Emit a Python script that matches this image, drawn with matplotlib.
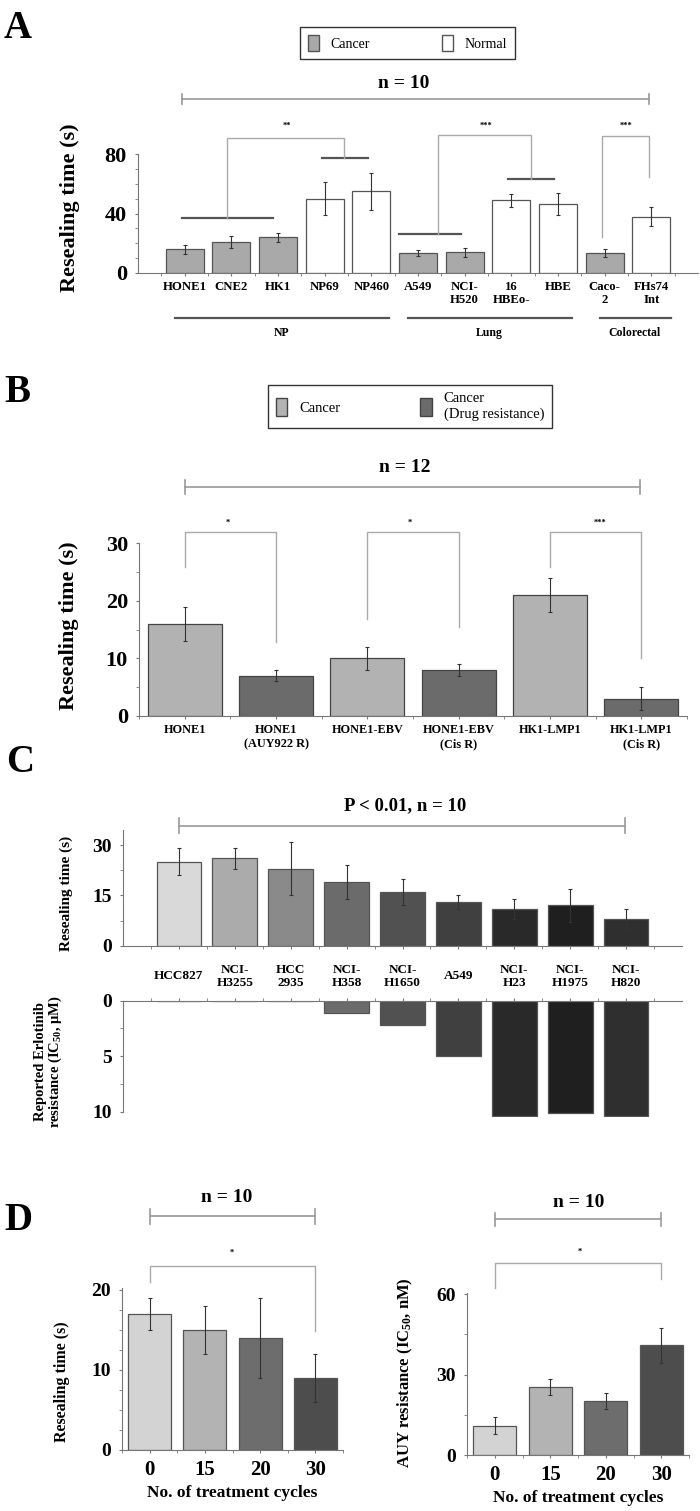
import numpy as np
import matplotlib
matplotlib.use('Agg')
import matplotlib.pyplot as plt
from matplotlib.patches import Patch

plt.rcParams['font.family'] = ['Liberation Serif', 'DejaVu Serif']
plt.rcParams['font.weight'] = 'bold'
plt.rcParams['axes.labelweight'] = 'bold'
plt.rcParams['mathtext.fontset'] = 'custom'
plt.rcParams['mathtext.rm'] = 'Liberation Serif:bold'
plt.rcParams['mathtext.it'] = 'Liberation Serif:bold'

# ---- data
a_cells = ['HONE1', 'CNE2', 'HK1', 'NP69', 'NP460', 'A549', 'NCI-\nH520',
           '16\nHBEo-', 'HBE', 'Caco-\n2', 'FHs74\nInt']
a_time = [16, 21, 24, 50, 55, 13.5, 14, 49, 46.5, 13.5, 38]
a_err = [3, 4, 3, 11, 12.5, 2, 3, 4.5, 7.5, 3, 6.5]
a_kind = ['Cancer', 'Cancer', 'Cancer', 'Normal', 'Normal', 'Cancer', 'Cancer',
          'Normal', 'Normal', 'Cancer', 'Normal']
a_tissues = ['NP', 'Lung', 'Colorectal']

b_cells = ['HONE1', 'HONE1\n(AUY922 R)', 'HONE1-EBV', 'HONE1-EBV\n(Cis R)',
           'HK1-LMP1', 'HK1-LMP1\n(Cis R)']
b_time = [16, 7, 10, 8, 21, 3]
b_err = [3, 1, 2, 1, 3, 2]
b_kind = ['Cancer', 'Resistant'] * 3

c_cells = ['HCC827', 'NCI-\nH3255', 'HCC\n2935', 'NCI-\nH358', 'NCI-\nH1650',
           'A549', 'NCI-\nH23', 'NCI-\nH1975', 'NCI-\nH820']
c_time = [25, 26, 23, 19, 16, 13, 11, 12, 8]
c_err = [4, 3, 8, 5, 4, 2, 3, 5, 3]
c_ic50 = [0, 0, 0.05, 1.1, 2.2, 5.0, 10.4, 10.1, 10.4]

d_cycles = ['0', '15', '20', '30']
d_time = [17, 15, 14, 9]
d_time_err = [2, 3, 5, 3]
d_auy = [11, 25.5, 20, 41]
d_auy_err = [3, 3, 3, 6.5]

# ---- styles
a_colors = {'Cancer': '#a9a9a9', 'Normal': 'white'}
b_colors = {'Cancer': '#b2b2b2', 'Resistant': '#6b6b6b'}
c_colors = ['#d9d9d9', '#ababab', '#8a8a8a', '#6b6b6b', '#515151', '#404040',
            '#292929', '#1f1f1f', '#2f2f2f']
d_colors = ['#d3d3d3', '#b3b3b3', '#6d6d6d', '#4d4d4d']
edge = '#555555'
ekw = dict(ecolor='#333333', elinewidth=0.8, capsize=1.5, capthick=0.8)
brk = '#aaaaaa'

W, H = 700, 1511
fig = plt.figure(figsize=(7, 15.11), dpi=100)


def add_ax(x0, x1, ytop, ybot):
    return fig.add_axes([x0 / W, 1 - ybot / H, (x1 - x0) / W, (ybot - ytop) / H])


def style(ax, n, fs, ticks, minor):
    for s in ['top', 'right']:
        ax.spines[s].set_visible(False)
    for s in ['left', 'bottom', 'top']:
        ax.spines[s].set_color('#777777')
    ax.set_yticks(ticks)
    ax.set_yticks(minor, minor=True)
    ax.set_xticks(np.arange(-0.5, n, 1.0), minor=True)
    ax.tick_params(axis='y', which='both', length=2, color='#777777', labelsize=fs, pad=6)
    ax.tick_params(axis='x', which='both', length=2, color='#777777')


def sig(ax, x0, x1, y, y0, y1, label, tx, ty, fs=6):
    ax.plot([x0, x0, x1, x1], [y0, y, y, y1], color=brk, lw=1, clip_on=False)
    ax.text(tx, ty, label, ha='center', va='center', fontsize=fs)


def nbar(ax, x0, x1, y, dy, label, tx, ty, fs=14):
    ax.plot([x0, x1], [y, y], color='#999999', lw=1.2, clip_on=False)
    for x in (x0, x1):
        ax.plot([x, x], [y - dy, y + dy], color='#999999', lw=1.2, clip_on=False)
    ax.text(tx, ty, label, ha='center', va='center', fontsize=fs)


def letter(x, y, s):
    fig.text(x / W, 1 - y / H, s, fontsize=28, ha='left', va='center')


# ================= A
ax = add_ax(138, 698, 154.3, 273)
xa = np.arange(len(a_cells))
ax.bar(xa, a_time, 0.82, color=[a_colors[k] for k in a_kind], edgecolor=edge,
       linewidth=0.9, yerr=a_err, error_kw=ekw)
ax.set_xlim(-1, 11)
ax.set_ylim(0, 80)
style(ax, len(a_cells), 16, [0, 40, 80], np.arange(10, 80, 10))
ax.set_xticks(xa, a_cells, fontsize=9.2, linespacing=1.1)
ax.tick_params(axis='x', pad=4)
ax.set_ylabel('Resealing time (s)', fontsize=16)
ax.yaxis.set_label_coords(-0.104, 0.55)
# group lines and significance
gl = '#555555'
for x0, x1, y in [(-0.05, 1.9, 37.4), (2.95, 3.92, 77.7), (4.59, 5.92, 26.6),
                  (6.93, 7.92, 63.3)]:
    ax.plot([x0, x1], [y, y], color=gl, lw=1.6, clip_on=False)
sig(ax, 0.91, 3.42, 91.3, 37.4, 77.7, '**', 2.19, 99)
sig(ax, 5.43, 7.43, 93.1, 26.6, 63.3, '***', 6.45, 99)
sig(ax, 8.95, 9.96, 92.4, 24.3, 64.4, '***', 9.46, 99)
nbar(ax, -0.05, 9.95, 117.2, 3.5, 'n = 10', 4.7, 128)
for (x0, x1), name, tx in zip([(-0.21, 4.37), (4.78, 8.31), (8.89, 10.43)],
                              a_tissues, [2.08, 6.53, 9.64]):
    ax.plot([x0, x1], [-30.4, -30.4], color=gl, lw=1.6, clip_on=False)
    ax.text(tx, -40.6, name, ha='center', va='center', fontsize=8.5)
fig.legend([Patch(facecolor=a_colors['Cancer'], edgecolor=edge),
            Patch(facecolor='white', edgecolor=edge)], ['Cancer', 'Normal'],
           loc='center', bbox_to_anchor=(407.5 / W, 1 - 43 / H), ncol=2,
           fancybox=False, edgecolor='#333333', framealpha=1,
           prop={'weight': 'normal', 'size': 10}, handlelength=0.8,
           handleheight=1.3, columnspacing=5.2, borderpad=0.6)
letter(4, 28, 'A')

# ================= B
ax = add_ax(139, 687, 543.3, 715.8)
xb = np.arange(len(b_cells))
ax.bar(xb, b_time, 0.81, color=[b_colors[k] for k in b_kind], edgecolor='#444444',
       linewidth=0.9, yerr=b_err, error_kw=ekw)
ax.set_xlim(-0.5, 5.5)
ax.set_ylim(0, 30)
style(ax, len(b_cells), 16, [0, 10, 20, 30], [5, 15, 25])
ax.set_xticks(xb, b_cells, fontsize=8.8, linespacing=1.2)
ax.tick_params(axis='x', pad=4)
ax.set_ylabel('Resealing time (s)', fontsize=16)
ax.yaxis.set_label_coords(-0.109, 0.52)
sig(ax, 0, 1, 32.0, 25.8, 12.9, '*', 0.47, 33.6)
sig(ax, 2, 3, 32.0, 16.8, 15.5, '*', 2.47, 33.6)
sig(ax, 4, 5, 32.0, 25.9, 10.0, '***', 4.55, 33.6)
nbar(ax, 0, 4.98, 39.8, 1.2, 'n = 12', 2.41, 43.1)
leg = fig.legend([Patch(facecolor=b_colors['Cancer'], edgecolor='#444444'),
                  Patch(facecolor=b_colors['Resistant'], edgecolor='#444444')],
                 ['Cancer', 'Cancer\n(Drug resistance)'],
                 loc='center', bbox_to_anchor=(410 / W, 1 - 406.5 / H), ncol=2,
                 fancybox=False, edgecolor='#333333', framealpha=1,
                 prop={'weight': 'normal', 'size': 10.5}, handlelength=0.8,
                 handleheight=1.5, columnspacing=5.5, borderpad=0.5)
for t in leg.get_texts():
    t.set_multialignment('left')
letter(4, 392, 'B')

# ================= C (top)
ax = add_ax(123, 682, 829.9, 945.7)
xc = np.arange(len(c_cells))
ax.bar(xc, c_time, 0.8, color=c_colors, edgecolor='#555555', linewidth=0.9,
       yerr=c_err, error_kw=ekw)
ax.set_xlim(-1, 9)
ax.set_ylim(0, 34.5)
style(ax, len(c_cells), 14, [0, 15, 30], [7.5, 22.5])
ax.set_xticks(xc, c_cells, fontsize=9.5, linespacing=1.15)
ax.tick_params(axis='x', pad=20)
for t in ax.get_xticklabels():
    t.set_va('center')
ax.set_ylabel('Resealing time (s)', fontsize=11)
ax.yaxis.set_label_coords(-0.089, 0.45)
nbar(ax, 0, 7.98, 35.7, 2.2, 'P < 0.01, n = 10', 4.05, 41.7, fs=13.5)
letter(6, 763, 'C')

# ================= C (bottom)
ax = add_ax(123, 682, 1000.7, 1117.3)
ax.bar(xc, c_ic50, 0.8, color=c_colors, edgecolor='#555555', linewidth=0.9)
ax.set_xlim(-1, 9)
ax.set_ylim(10.5, 0)
style(ax, len(c_cells), 14, [0, 5, 10], [2.5, 7.5])
ax.spines['top'].set_visible(True)
ax.spines['bottom'].set_visible(False)
ax.spines['left'].set_bounds(0, 10)
ax.xaxis.tick_top()
ax.set_xticks(xc, [''] * len(xc))
ax.tick_params(axis='x', which='both', length=2, color='#777777')
ax.set_ylabel('Reported Erlotinib\nresistance (IC$_{50}$, μM)', fontsize=10.5,
              linespacing=1.0)
ax.yaxis.set_label_coords(-0.105, 0.48)

# ================= D (left)
ax = add_ax(122, 343, 1287.6, 1450)
xd = np.arange(len(d_cycles))
ax.bar(xd, d_time, 0.78, color=d_colors, edgecolor='#555555', linewidth=0.9,
       yerr=d_time_err, error_kw=ekw)
ax.set_xlim(-0.5, 3.5)
ax.set_ylim(0, 20.3)
style(ax, 4, 14, [0, 10, 20], np.arange(2.5, 20, 2.5))
ax.set_xticks(xd, d_cycles, fontsize=15)
ax.tick_params(axis='x', pad=5)
ax.set_xlabel('No. of treatment cycles', fontsize=12.5, labelpad=4)
ax.set_ylabel('Resealing time (s)', fontsize=11.5)
ax.yaxis.set_label_coords(-0.235, 0.42)
sig(ax, 0, 3, 23.0, 21.0, 14.9, '*', 1.48, 24.7)
nbar(ax, 0, 3, 29.2, 0.9, 'n = 10', 1.39, 31.5)
letter(4, 1221, 'D')

# ================= D (right)
ax = add_ax(467, 689, 1292.9, 1455)
ax.bar(xd, d_auy, 0.78, color=d_colors, edgecolor='#555555', linewidth=0.9,
       yerr=d_auy_err, error_kw=ekw)
ax.set_xlim(-0.5, 3.5)
ax.set_ylim(0, 60.5)
style(ax, 4, 14, [0, 30, 60], [15, 45])
ax.set_xticks(xd, d_cycles, fontsize=15)
ax.tick_params(axis='x', pad=5)
ax.set_xlabel('No. of treatment cycles', fontsize=12.5, labelpad=4)
ax.set_ylabel('AUY resistance (IC$_{50}$, nM)', fontsize=12)
ax.yaxis.set_label_coords(-0.234, 0.506)
sig(ax, 0, 3, 71.7, 62.2, 65.6, '*', 1.53, 75.9)
nbar(ax, 0, 2.99, 87.9, 2.6, 'n = 10', 1.51, 94.1)

fig.savefig('out.png', dpi=100)
